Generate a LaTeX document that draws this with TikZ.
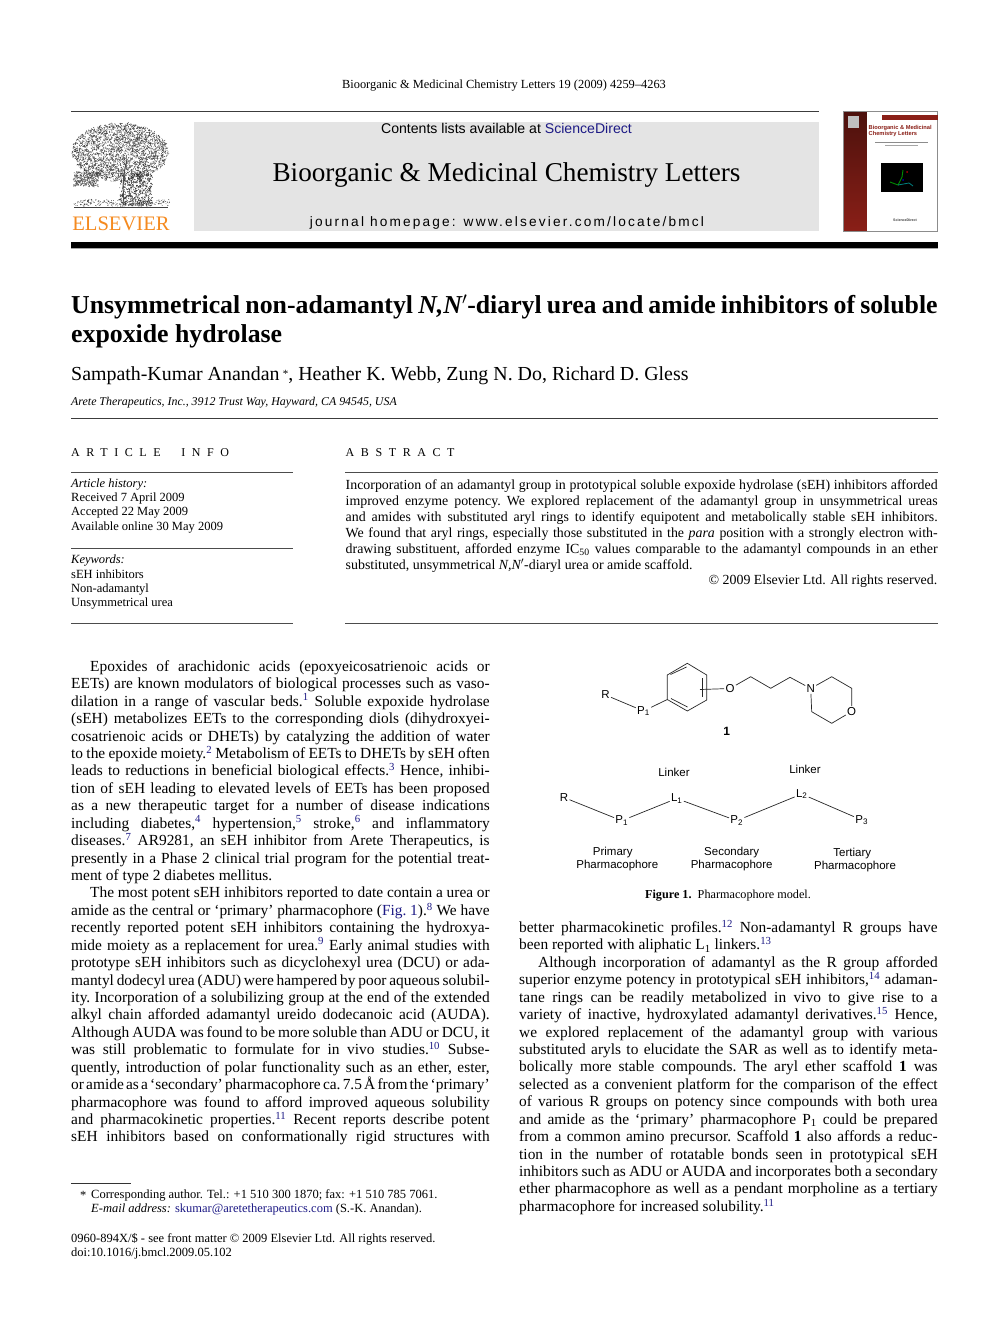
\documentclass[tikz,border=0pt]{standalone}
\usepackage{fontspec}
\setmainfont{Liberation Serif}
\setsansfont{Liberation Sans}
\newfontfamily\spacedserif[LetterSpace=55]{Liberation Serif}
\newfontfamily\spacedsans[LetterSpace=16]{Liberation Sans}
\definecolor{linkblue}{HTML}{1D1A85}
\definecolor{bandgrey}{HTML}{E4E4E4}
\definecolor{ruledark}{HTML}{3C3C3C}
\definecolor{coverred}{HTML}{8A1F17}
\definecolor{elsorange}{HTML}{F58A1F}
\newcommand{\sref}[1]{\textsuperscript{\textcolor{linkblue}{#1}}}
\newcommand{\glueset}{\frenchspacing\spaceskip=0.25em plus 0.6em minus 0.2em\relax}
\newcommand{\cbox}[1]{\hbox to 418.5pt{\glueset #1}}
\newcommand{\absbox}[1]{\hbox to 592pt{\glueset #1}}
\tikzset{
  bodyline/.style={anchor=mid west,inner sep=0pt,font=\fontsize{15.4}{17}\selectfont},
  absline/.style={anchor=mid west,inner sep=0pt,font=\fontsize{13.9}{15}\selectfont},
  infoline/.style={anchor=mid west,inner sep=0pt,font=\fontsize{12.5}{14}\selectfont},
  noteline/.style={anchor=mid west,inner sep=0pt,font=\fontsize{12.5}{14}\selectfont},
  atom/.style={inner sep=1.2pt,font=\sffamily\fontsize{11.5}{13}\selectfont},
  caplabel/.style={inner sep=0pt,font=\sffamily\fontsize{11.5}{13}\selectfont},
  bond/.style={line width=0.7pt,black!85},
  pagerule/.style={line width=0.8pt,ruledark},
  inforule/.style={line width=0.9pt,black!70},
}
\begin{document}
\begin{tikzpicture}[x=1pt,y=-1pt]
  \useasboundingbox (0,0) rectangle (992,1323);
  \fill[white] (0,0) rectangle (992,1323);

  % running head and masthead
  \node[inner sep=0pt,font=\fontsize{12.4}{14}\selectfont] (runhead) at (504,85.5) {Bioorganic \& Medicinal Chemistry Letters 19 (2009) 4259--4263};
  \draw[pagerule] (71,111) -- (819,111);
  \fill[bandgrey] (194,121.5) rectangle (819,230.5);
  \node[inner sep=0pt,font=\sffamily\fontsize{14.1}{16}\selectfont] (contents) at (506.5,128.5) {Contents lists available at \textcolor{linkblue}{ScienceDirect}};
  \node[inner sep=0pt,font=\fontsize{27.2}{32}\selectfont] (journal) at (506.5,174.5) {Bioorganic \& Medicinal Chemistry Letters};
  \node[inner sep=0pt,font=\spacedsans\fontsize{13.65}{15}\selectfont] (homepage) at (507,222.7) {journal homepage: www.elsevier.com/locate/bmcl};
  \fill[black] (71,242) rectangle (938,247.5);
  \draw[black!35,line width=0.5pt] (71,248) -- (938,248);

  % tree of the logo
  \pgfmathsetseed{41}
  \foreach \k in {1,...,2600}{
    \pgfmathsetmacro{\ang}{rnd*360}
    \pgfmathsetmacro{\rad}{sqrt(rnd)}
    \pgfmathsetmacro{\px}{120+48*\rad*cos(\ang)}
    \pgfmathsetmacro{\py}{152+29*\rad*sin(\ang)}
    \draw[black!80,line width=0.4pt] (\px,\py) -- ++({rnd*3-1.5},{rnd*3-1.5});
  }
  \foreach \k in {1,...,350}{
    \pgfmathsetmacro{\px}{74+rnd*24}
    \pgfmathsetmacro{\py}{172+rnd*14}
    \draw[black!75,line width=0.4pt] (\px,\py) -- ++({rnd*3-1.5},{rnd*3-1.5});
  }
  \foreach \k in {1,...,500}{
    \pgfmathsetmacro{\px}{120+rnd*32}
    \pgfmathsetmacro{\py}{172+rnd*34}
    \draw[black!85,line width=0.45pt] (\px,\py) -- ++({rnd*3-1.5},{rnd*4-2});
  }
  \foreach \k in {1,...,220}{
    \pgfmathsetmacro{\px}{74+rnd*96}
    \pgfmathsetmacro{\py}{200+rnd*6}
    \draw[black!80,line width=0.4pt] (\px,\py) -- ++({rnd*3-1.5},{rnd*2-1});
  }
  \draw[black!70,line width=1pt] (124,205) .. controls (123,190) and (122,178) .. (127,160);
  \draw[black!75,line width=1pt] (74,207.5) -- (168,207.5);
  \node[inner sep=0pt,font=\fontsize{20.6}{25}\selectfont,text=elsorange] (elsevier) at (121,223.5) {ELSEVIER};

  % journal cover
  \fill[white] (843,111) rectangle (938,231);
  \shade[top color=coverred!55!black,bottom color=coverred] (843,111) rectangle (866.5,231);
  \draw[black!45,line width=0.7pt] (843,111) rectangle (937.5,231);
  \fill[coverred] (882,115) rectangle (937.5,120);
  \fill[black!25] (847.5,116) rectangle (858.5,128);
  \node[anchor=west,inner sep=0pt,font=\sffamily\bfseries\fontsize{5.7}{6}\selectfont,text=coverred] (covertitle) at (868.5,128) {Bioorganic \& Medicinal};
  \node[anchor=west,inner sep=0pt,font=\sffamily\bfseries\fontsize{5.7}{6}\selectfont,text=coverred] (covertitleb) at (868.5,134.5) {Chemistry Letters};
  \draw[black!45,line width=0.3pt] (875,142) -- (928,142);
  \draw[black!35,line width=0.3pt] (885,145.5) -- (918,145.5);
  \fill[black] (881,163) rectangle (923,192);
  \draw[green!55!black,line width=0.9pt] (890,182) -- (898,185) -- (902,177) -- (903,170);
  \draw[teal,line width=0.8pt] (898,185) -- (909,183) -- (913,186);
  \fill[red!70!black] (907,172) circle (1); \fill[blue!70!black] (903,180) circle (1);
  \node[inner sep=0pt,font=\sffamily\bfseries\fontsize{3.6}{4}\selectfont,text=black!75] (coverlogo) at (905,220) {ScienceDirect};

  % title block
  \node[anchor=mid west,inner sep=0pt,font=\bfseries\fontsize{25.8}{30}\selectfont] (title) at (71,311.5) {\hbox to 866.5pt{\glueset Unsymmetrical non-adamantyl \textit{N,N$'$}-diaryl urea and amide inhibitors of soluble}};
  \node[anchor=mid west,inner sep=0pt,font=\bfseries\fontsize{25.8}{30}\selectfont] (titleb) at (71,340.5) {expoxide hydrolase};
  \node[anchor=mid west,inner sep=0pt,font=\fontsize{19.9}{23}\selectfont] (authors) at (71,378) {Sampath-Kumar Anandan\,\raisebox{3pt}{\fontsize{11}{11}\selectfont *}, Heather K. Webb, Zung N. Do, Richard D. Gless};
  \node[infoline,font=\itshape\fontsize{11.9}{14}\selectfont] (affil) at (71,403) {Arete Therapeutics, Inc., 3912 Trust Way, Hayward, CA 94545, USA};
  \draw[pagerule] (71,418.5) -- (938,418.5);

  % article info
  \node[infoline,font=\spacedserif\fontsize{12}{14}\selectfont] (infohead) at (71,454) {ARTICLE\hspace{11pt} INFO};
  \node[infoline,font=\spacedserif\fontsize{12}{14}\selectfont] (abshead) at (345.5,454) {ABSTRACT};
  \draw[inforule] (71,472.5) -- (293,472.5);
  \draw[inforule] (71,548.5) -- (293,548.5);
  \draw[inforule] (71,623) -- (293,623);
  \draw[inforule] (345,472.5) -- (938,472.5);
  \draw[inforule] (345,623) -- (938,623);
  \node[infoline] (hist) at (71,485) {\textit{Article history:}};
  \node[infoline] (histb) at (71,499) {Received 7 April 2009};
  \node[infoline] (histc) at (71,513.5) {Accepted 22 May 2009};
  \node[infoline] (histd) at (71,528) {Available online 30 May 2009};
  \node[infoline] (keys) at (71,561.5) {\textit{Keywords:}};
  \node[infoline] (keysb) at (71,576) {sEH inhibitors};
  \node[infoline] (keysc) at (71,590) {Non-adamantyl};
  \node[infoline] (keysd) at (71,604.5) {Unsymmetrical urea};

  % abstract
  \foreach \txt [count=\i] in {
    {Incorporation of an adamantyl group in prototypical soluble expoxide hydrolase (sEH) inhibitors afforded},
    {improved enzyme potency. We explored replacement of the adamantyl group in unsymmetrical ureas},
    {and amides with substituted aryl rings to identify equipotent and metabolically stable sEH inhibitors.},
    {We found that aryl rings, especially those substituted in the \textit{para} position with a strongly electron with-},
    {drawing substituent, afforded enzyme IC\textsubscript{50} values comparable to the adamantyl compounds in an ether},
    {substituted, unsymmetrical \textit{N,N$'$}-diaryl urea or amide scaffold.\hfill}}{
    \node[absline] (abs\i) at (345.5,{487+16.05*(\i-1)}) {\absbox{\txt}};
  }
  \node[absline,anchor=mid east] (rights) at (937.5,582) {\textcopyright\ 2009 Elsevier Ltd. All rights reserved.};

  % left column
  \foreach \txt [count=\i] in {
    {\hspace*{19pt}Epoxides of arachidonic acids (epoxyeicosatrienoic acids or},
    {EETs) are known modulators of biological processes such as vaso-},
    {dilation in a range of vascular beds.\sref{1} Soluble expoxide hydrolase},
    {(sEH) metabolizes EETs to the corresponding diols (dihydroxyei-},
    {cosatrienoic acids or DHETs) by catalyzing the addition of water},
    {to the epoxide moiety.\sref{2} Metabolism of EETs to DHETs by sEH often},
    {leads to reductions in beneficial biological effects.\sref{3} Hence, inhibi-},
    {tion of sEH leading to elevated levels of EETs has been proposed},
    {as a new therapeutic target for a number of disease indications},
    {including diabetes,\sref{4} hypertension,\sref{5} stroke,\sref{6} and inflammatory},
    {diseases.\sref{7} AR9281, an sEH inhibitor from Arete Therapeutics, is},
    {presently in a Phase 2 clinical trial program for the potential treat-},
    {ment of type 2 diabetes mellitus.\hfill},
    {\hspace*{19pt}The most potent sEH inhibitors reported to date contain a urea or},
    {amide as the central or ‘primary’ pharmacophore (\textcolor{linkblue}{Fig. 1}).\sref{8} We have},
    {recently reported potent sEH inhibitors containing the hydroxya-},
    {mide moiety as a replacement for urea.\sref{9} Early animal studies with},
    {prototype sEH inhibitors such as dicyclohexyl urea (DCU) or ada-},
    {mantyl dodecyl urea (ADU) were hampered by poor aqueous solubil-},
    {ity. Incorporation of a solubilizing group at the end of the extended},
    {alkyl chain afforded adamantyl ureido dodecanoic acid (AUDA).},
    {Although AUDA was found to be more soluble than ADU or DCU, it},
    {was still problematic to formulate for in vivo studies.\sref{10} Subse-},
    {quently, introduction of polar functionality such as an ether, ester,},
    {or amide as a ‘secondary’ pharmacophore ca. 7.5 Å from the ‘primary’},
    {pharmacophore was found to afford improved aqueous solubility},
    {and pharmacokinetic properties.\sref{11} Recent reports describe potent},
    {sEH inhibitors based on conformationally rigid structures with}}{
    \node[bodyline] (left\i) at (71,{669+17.43*(\i-1)}) {\cbox{\txt}};
  }

  % right column
  \foreach \txt [count=\i] in {
    {better pharmacokinetic profiles.\sref{12} Non-adamantyl R groups have},
    {been reported with aliphatic L\textsubscript{1} linkers.\sref{13}\hfill},
    {\hspace*{19pt}Although incorporation of adamantyl as the R group afforded},
    {superior enzyme potency in prototypical sEH inhibitors,\sref{14} adaman-},
    {tane rings can be readily metabolized in vivo to give rise to a},
    {variety of inactive, hydroxylated adamantyl derivatives.\sref{15} Hence,},
    {we explored replacement of the adamantyl group with various},
    {substituted aryls to elucidate the SAR as well as to identify meta-},
    {bolically more stable compounds. The aryl ether scaffold \textbf{1} was},
    {selected as a convenient platform for the comparison of the effect},
    {of various R groups on potency since compounds with both urea},
    {and amide as the ‘primary’ pharmacophore P\textsubscript{1} could be prepared},
    {from a common amino precursor. Scaffold \textbf{1} also affords a reduc-},
    {tion in the number of rotatable bonds seen in prototypical sEH},
    {inhibitors such as ADU or AUDA and incorporates both a secondary},
    {ether pharmacophore as well as a pendant morpholine as a tertiary},
    {pharmacophore for increased solubility.\sref{11}\hfill}}{
    \node[bodyline] (right\i) at (519,{930.2+17.43*(\i-1)}) {\cbox{\txt}};
  }

  % footnotes
  \draw[line width=0.7pt,black!80] (71,1183.5) -- (131,1183.5);
  \node[noteline] (note0) at (80,1197) {*};
  \node[noteline] (note1) at (91,1196) {Corresponding author. Tel.: +1 510 300 1870; fax: +1 510 785 7061.};
  \node[noteline] (note2) at (91,1210) {\textit{E-mail address:} \textcolor{linkblue}{skumar@aretetherapeutics.com} (S.-K. Anandan).};
  \node[noteline] (note3) at (71,1240) {0960-894X/\$ - see front matter \textcopyright\ 2009 Elsevier Ltd. All rights reserved.};
  \node[noteline] (note4) at (71,1254) {doi:10.1016/j.bmcl.2009.05.102};

  % compound 1
  \node[atom] (rgroup) at (605.5,695) {R};
  \node[atom] (pone) at (643.5,711) {P\textsubscript{1}};
  \coordinate (ringa) at (667.3,699.5);
  \coordinate (ringb) at (667.3,675);
  \coordinate (ringc) at (687.3,663.3);
  \coordinate (ringd) at (706.7,675);
  \coordinate (ringe) at (706.7,700);
  \coordinate (ringf) at (687.3,711);
  \coordinate (ringin) at (700,689.5);
  \node[atom] (oxa) at (730,688.5) {O};
  \coordinate (chaina) at (750.7,676.7);
  \coordinate (chainb) at (770.7,688.3);
  \coordinate (chainc) at (790,677.3);
  \node[atom] (nit) at (810.7,688.5) {N};
  \coordinate (morpa) at (831.7,676.7);
  \coordinate (morpb) at (851.7,688.3);
  \node[atom] (oxb) at (851.7,711.5) {O};
  \coordinate (morpc) at (831.7,723.3);
  \coordinate (morpd) at (811.7,711.7);
  \draw[bond] (rgroup) -- (pone);
  \draw[bond] (pone) -- (ringa) -- (ringb) -- (ringc) -- (ringd) -- (ringe) -- (ringf) -- (ringa);
  \draw[bond] (670.5,674.5) -- (686.5,667);
  \draw[bond] (702.5,678) -- (702.5,697);
  \draw[bond] (671,698.5) -- (687.5,707);
  \draw[bond] (ringin) -- (oxa);
  \draw[bond] (oxa) -- (chaina) -- (chainb) -- (chainc) -- (nit);
  \draw[bond] (nit) -- (morpa) -- (morpb) -- (oxb);
  \draw[bond] (oxb) -- (morpc) -- (morpd) -- (nit);
  \node[inner sep=0pt,font=\sffamily\bfseries\fontsize{12}{14}\selectfont] (cmpd) at (726.7,731.5) {1};

  % pharmacophore model
  \node[caplabel] (linka) at (674,772) {Linker};
  \node[caplabel] (linkb) at (805,769) {Linker};
  \node[atom] (rr) at (564,797.5) {R};
  \node[atom] (pa) at (621.7,820.7) {P\textsubscript{1}};
  \node[atom] (la) at (676.7,798.5) {L\textsubscript{1}};
  \node[atom] (pb) at (736.7,820.7) {P\textsubscript{2}};
  \node[atom] (lb) at (801.7,794) {L\textsubscript{2}};
  \node[atom] (pc) at (861.7,820) {P\textsubscript{3}};
  \draw[bond] (rr) -- (pa);
  \draw[bond] (pa) -- (la);
  \draw[bond] (la) -- (pb);
  \draw[bond] (pb) -- (lb);
  \draw[bond] (lb) -- (pc);
  \node[caplabel] (capa) at (612.7,853) {Primary};
  \node[caplabel] (capb) at (617.3,866) {Pharmacophore};
  \node[caplabel] (capc) at (731.7,853) {Secondary};
  \node[caplabel] (capd) at (731.7,866) {Pharmacophore};
  \node[caplabel] (cape) at (852.3,854) {Tertiary};
  \node[caplabel] (capf) at (855,867) {Pharmacophore};
  \node[inner sep=0pt,font=\fontsize{12.2}{14}\selectfont] (figcap) at (728,896) {\textbf{Figure 1.}\ \ Pharmacophore model.};
\end{tikzpicture}
\end{document}
